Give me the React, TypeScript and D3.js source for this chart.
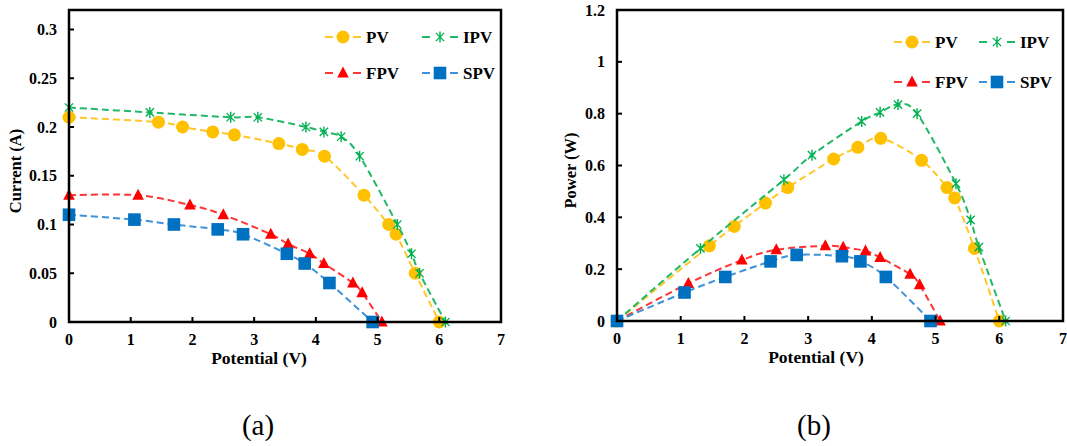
import React from "react";
import * as d3 from "d3";

// ---------- data ----------
const voltPV = [0, 1.45, 1.84, 2.33, 2.68, 3.4, 3.78, 4.14, 4.78, 5.18, 5.3, 5.61, 6.0];
const curPV = [0.21, 0.205, 0.2, 0.195, 0.192, 0.183, 0.177, 0.17, 0.13, 0.1, 0.09, 0.05, 0];
const powPV = [0, 0.29, 0.365, 0.455, 0.515, 0.625, 0.67, 0.705, 0.62, 0.515, 0.475, 0.28, 0];

const voltIPV = [0, 1.31, 2.62, 3.06, 3.84, 4.13, 4.41, 4.71, 5.32, 5.55, 5.68, 6.1];
const curIPV = [0.22, 0.215, 0.21, 0.21, 0.2, 0.195, 0.19, 0.17, 0.1, 0.07, 0.05, 0];
const powIPV = [0, 0.28, 0.545, 0.64, 0.77, 0.805, 0.835, 0.8, 0.53, 0.39, 0.285, 0];

const voltFPV = [0, 1.12, 1.96, 2.5, 3.27, 3.55, 3.9, 4.13, 4.6, 4.75, 5.07];
const curFPV = [0.13, 0.13, 0.12, 0.11, 0.09, 0.08, 0.07, 0.06, 0.04, 0.03, 0];
const powFPV = [0, 0.145, 0.235, 0.275, 0.29, 0.285, 0.27, 0.245, 0.18, 0.14, 0];

const voltSPV = [0, 1.06, 1.7, 2.41, 2.82, 3.53, 3.82, 4.22, 4.92];
const curSPV = [0.11, 0.105, 0.1, 0.095, 0.09, 0.07, 0.06, 0.04, 0];
const powSPV = [0, 0.11, 0.17, 0.23, 0.255, 0.25, 0.23, 0.17, 0];

const seriesNames = ["PV", "IPV", "FPV", "SPV"];
const xTicks = [0, 1, 2, 3, 4, 5, 6, 7];
const currentTicks = [0, 0.05, 0.1, 0.15, 0.2, 0.25, 0.3];
const powerTicks = [0, 0.2, 0.4, 0.6, 0.8, 1, 1.2];

// ---------- styles ----------
const markerColor: Record<string, string> = {
  PV: "#FFC000",
  IPV: "#00B050",
  FPV: "#FF0000",
  SPV: "#0070C0",
};
const lineColor: Record<string, string> = {
  PV: "#FFC72A",
  IPV: "#22B866",
  FPV: "#FF3535",
  SPV: "#3F92DA",
};
const FONT = "'Liberation Serif', 'Times New Roman', serif";

function Marker({ name, x, y }: { name: string; x: number; y: number }) {
  const c = markerColor[name];
  if (name === "PV") return <circle cx={x} cy={y} r={6.5} fill={c} />;
  if (name === "SPV") return <rect x={x - 6.3} y={y - 6.3} width={12.6} height={12.6} fill={c} />;
  if (name === "FPV")
    return <path d={`M${x},${y - 6.5}L${x + 5.8},${y + 4.5}L${x - 5.8},${y + 4.5}Z`} fill={c} />;
  const s = 5.5;
  const d = s * 0.75;
  return (
    <path
      d={`M${x},${y - s}L${x},${y + s}M${x - d},${y - d}L${x + d},${y + d}M${x - d},${y + d}L${x + d},${y - d}`}
      stroke={c}
      strokeWidth={1.4}
      fill="none"
    />
  );
}

type Series = { name: string; xs: number[]; ys: number[] };

function Chart(props: {
  x0: number;
  x1: number;
  yTop: number;
  yBottom: number;
  yMax: number;
  yTicks: number[];
  yTitle: string;
  yTitleX: number;
  xTitleX: number;
  series: Series[];
  legendX: [number, number];
  legendY: [number, number];
  label: string;
  labelX: number;
}) {
  const { x0, x1, yTop, yBottom, yMax, yTicks, yTitle, yTitleX, xTitleX, series, legendX, legendY, label, labelX } =
    props;
  const xs = d3.scaleLinear().domain([0, 7]).range([x0, x1]);
  const ys = d3.scaleLinear().domain([0, yMax]).range([yBottom, yTop]);
  const line = d3
    .line<[number, number]>()
    .x((d) => xs(d[0]))
    .y((d) => ys(d[1]))
    .curve(d3.curveCardinal.tension(0));
  return (
    <g>
      {series.map((s) => {
        const pts = s.xs.map((v, i) => [v, s.ys[i]] as [number, number]);
        return (
          <g key={s.name}>
            <path
              d={line(pts) || ""}
              fill="none"
              stroke={lineColor[s.name]}
              strokeWidth={2}
              strokeDasharray="7 4"
            />
            {pts.map((p, i) => (
              <Marker key={i} name={s.name} x={xs(p[0])} y={ys(p[1])} />
            ))}
          </g>
        );
      })}
      <rect x={x0} y={yTop} width={x1 - x0} height={yBottom - yTop} fill="none" stroke="#000" strokeWidth={2.5} />
      {xTicks.map((t) => (
        <g key={"x" + t}>
          <line x1={xs(t)} x2={xs(t)} y1={yBottom} y2={yBottom - 5} stroke="#000" strokeWidth={2} />
          <text x={xs(t)} y={yBottom + 23} textAnchor="middle" fontFamily={FONT} fontWeight="bold" fontSize={16}>
            {t}
          </text>
        </g>
      ))}
      {yTicks.map((t) => (
        <g key={"y" + t}>
          <line x1={x0} x2={x0 + 5} y1={ys(t)} y2={ys(t)} stroke="#000" strokeWidth={2} />
          <text x={x0 - 12} y={ys(t) + 5.5} textAnchor="end" fontFamily={FONT} fontWeight="bold" fontSize={16}>
            {String(t)}
          </text>
        </g>
      ))}
      <text x={xTitleX} y={yBottom + 42} textAnchor="middle" fontFamily={FONT} fontWeight="bold" fontSize={17.5}>
        Potential (V)
      </text>
      <text
        transform={`translate(${yTitleX},${(yTop + yBottom) / 2 + 5}) rotate(-90)`}
        textAnchor="middle"
        fontFamily={FONT}
        fontWeight="bold"
        fontSize={16.5}
      >
        {yTitle}
      </text>
      {seriesNames.map((n, i) => {
        const mx = legendX[i % 2];
        const my = legendY[Math.floor(i / 2)];
        return (
          <g key={"lg" + n}>
            <line x1={mx - 18} x2={mx - 10} y1={my} y2={my} stroke={lineColor[n]} strokeWidth={2} />
            <line x1={mx + 10} x2={mx + 18} y1={my} y2={my} stroke={lineColor[n]} strokeWidth={2} />
            <Marker name={n} x={mx} y={my} />
            <text x={mx + 23} y={my + 6} fontFamily={FONT} fontWeight="bold" fontSize={17}>
              {n}
            </text>
          </g>
        );
      })}
      <text x={labelX} y={435} textAnchor="middle" fontFamily={FONT} fontSize={29}>
        {label}
      </text>
    </g>
  );
}

export default function App() {
  const left: Series[] = [
    { name: "PV", xs: voltPV, ys: curPV },
    { name: "IPV", xs: voltIPV, ys: curIPV },
    { name: "FPV", xs: voltFPV, ys: curFPV },
    { name: "SPV", xs: voltSPV, ys: curSPV },
  ];
  const right: Series[] = [
    { name: "PV", xs: voltPV, ys: powPV },
    { name: "IPV", xs: voltIPV, ys: powIPV },
    { name: "FPV", xs: voltFPV, ys: powFPV },
    { name: "SPV", xs: voltSPV, ys: powSPV },
  ];
  return (
    <svg width={1067} height={446} style={{ position: "absolute", left: 0, top: 0, background: "#fff" }}>
      <rect x={0} y={0} width={1067} height={446} fill="#fff" />
      <Chart
        x0={69}
        x1={501}
        yTop={10}
        yBottom={322}
        yMax={0.32}
        yTicks={currentTicks}
        yTitle="Current (A)"
        yTitleX={21}
        xTitleX={259}
        series={left}
        legendX={[343, 440]}
        legendY={[37, 73]}
        label="(a)"
        labelX={258}
      />
      <Chart
        x0={617}
        x1={1063}
        yTop={10}
        yBottom={321}
        yMax={1.2}
        yTicks={powerTicks}
        yTitle="Power (W)"
        yTitleX={576}
        xTitleX={816}
        series={right}
        legendX={[912, 997]}
        legendY={[42, 82]}
        label="(b)"
        labelX={814}
      />
    </svg>
  );
}
